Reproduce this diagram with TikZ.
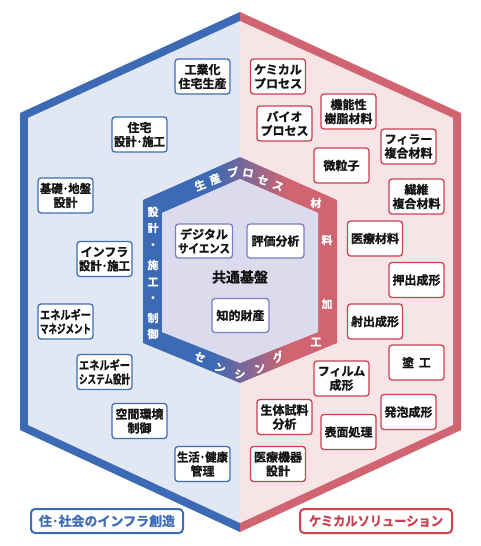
\documentclass[tikz,border=0pt]{standalone}
\usepackage{fontspec}
\usepackage{graphicx}
\newfontfamily\jp{Noto Sans CJK JP}[BoldFont={Noto Sans CJK JP Bold}, BoldFeatures={FakeBold=1.2}]
\definecolor{blueC}{RGB}{60,106,180}
\definecolor{redC}{RGB}{208,100,112}
\definecolor{lbC}{RGB}{226,232,243}
\definecolor{lpC}{RGB}{247,228,231}
\definecolor{lavC}{RGB}{220,219,237}
\definecolor{bboxC}{RGB}{62,108,182}
\definecolor{rboxC}{RGB}{200,66,80}
\definecolor{iboxC}{RGB}{124,124,194}
\definecolor{txtC}{RGB}{20,20,20}
\pgfdeclarehorizontalshading{bandshade}{100bp}{color(0bp)=(blueC); color(43bp)=(blueC); color(62bp)=(redC); color(100bp)=(redC)}
\newsavebox\fitbx
\newcommand\fitl[2][51pt]{\sbox\fitbx{#2}\ifdim\wd\fitbx>#1\relax\resizebox{#1}{\height}{\usebox\fitbx}\else\usebox\fitbx\fi}
\tikzset{
  lbox/.style={draw=bboxC, line width=1.3pt, fill=white, rounded corners=3pt,
    minimum width=55pt, minimum height=35pt, inner sep=0pt, align=center,
    text=txtC, font=\jp\bfseries\fontsize{12}{14}\selectfont},
  rbox/.style={lbox, draw=rboxC},
  ibox/.style={lbox, draw=iboxC, minimum width=57pt, minimum height=34pt,
    font=\jp\bfseries\fontsize{12}{14}\selectfont},
  bandtxt/.style={text=white, inner sep=0pt, font=\jp\bfseries\fontsize{11}{11}\selectfont},
  tagbox/.style={line width=2pt, fill=white, rounded corners=4pt, minimum width=152pt,
    minimum height=24pt, inner sep=0pt, font=\jp\bfseries\fontsize{13}{13}\selectfont}
}
\begin{document}
\begin{tikzpicture}[x=1pt,y=-1pt]
\useasboundingbox (0,0) rectangle (480,546);
\fill[white] (0,0) rectangle (480,546);
% outer hexagon halves
\fill[blueC] (240,12) -- (20,113) -- (20,430) -- (240,532) -- cycle;
\fill[lbC] (240,21) -- (28,118) -- (28,425) -- (240,523) -- cycle;
\fill[redC] (240,12) -- (461,113) -- (461,430) -- (240,532) -- cycle;
\fill[lpC] (240,21) -- (453,118) -- (453,425) -- (240,523) -- cycle;
% inner hexagon band
\shade[shading=bandshade, even odd rule]
  (240,157) -- (337,200) -- (337,343) -- (240,383) -- (143,343) -- (143,200) -- cycle
  (240,179) -- (318,213) -- (318,332) -- (240,363) -- (162,332) -- (162,213) -- cycle;
\fill[lavC] (240,179) -- (318,213) -- (318,332) -- (240,363) -- (162,332) -- (162,213) -- cycle;
% band texts
\node[bandtxt, rotate=21.8] (t1) at (200,185) {生};
\node[bandtxt, rotate=21.8] (t2) at (215,179) {産};
\node[bandtxt, rotate=10] (t3) at (233,172) {プ};
\node[bandtxt, rotate=-10] (t4) at (248,173) {ロ};
\node[bandtxt, rotate=-21.8] (t5) at (263,180) {セ};
\node[bandtxt, rotate=-21.8] (t6) at (278,186) {ス};
\node[bandtxt] (r1) at (316,203) {材};
\node[bandtxt] (r2) at (327,240) {料};
\node[bandtxt] (r3) at (327,304) {加};
\node[bandtxt] (r4) at (316,342) {工};
\node[bandtxt] (l1) at (153,212) {設};
\node[bandtxt] (l2) at (153,228) {計};
\node[bandtxt] (l3) at (153,246) {・};
\node[bandtxt] (l4) at (153,265) {施};
\node[bandtxt] (l5) at (153,282) {工};
\node[bandtxt] (l6) at (153,299) {・};
\node[bandtxt] (l7) at (153,318) {制};
\node[bandtxt] (l8) at (153,334) {御};
\node[bandtxt, rotate=-21.8] (s1) at (200,357) {セ};
\node[bandtxt, rotate=-21.8] (s2) at (220,368) {ン};
\node[bandtxt] (s3) at (240,374) {シ};
\node[bandtxt, rotate=21.8] (s4) at (260,368) {ン};
\node[bandtxt, rotate=21.8] (s5) at (278,357) {グ};
% inner content
\node[ibox] (ds) at (204,241) {\fitl[52pt]{デジタル}\\\fitl[52pt]{サイエンス}};
\node[ibox] (hk) at (275.5,241) {\fitl[52pt]{評価分析}};
\node[ibox] (ch) at (240.5,315.5) {\fitl[52pt]{知的財産}};
\node[text=txtC, inner sep=0pt, font=\jp\bfseries\fontsize{14}{14}\selectfont] (kb) at (240,277) {共通基盤};
% left boxes
\node[lbox] (a1) at (202.5,76.5) {\fitl{工業化}\\\fitl{住宅生産}};
\node[lbox] (a2) at (139.5,134.5) {\fitl{住宅}\\\fitl{設計･施工}};
\node[lbox] (a3) at (65.5,195.5) {\fitl{基礎･地盤}\\\fitl{設計}};
\node[lbox] (a4) at (104.5,259) {\fitl{インフラ}\\\fitl{設計･施工}};
\node[lbox] (a5) at (65.5,321.5) {\fitl{エネルギー}\\\fitl{マネジメント}};
\node[lbox] (a6) at (104.5,372) {\fitl{エネルギー}\\\fitl{システム設計}};
\node[lbox] (a7) at (139.5,421) {\fitl{空間環境}\\\fitl{制御}};
\node[lbox] (a8) at (202.5,464) {\fitl{生活･健康}\\\fitl{管理}};
% right boxes
\node[rbox] (b1) at (278,76.5) {\fitl{ケミカル}\\\fitl{プロセス}};
\node[rbox] (b2) at (284.5,123.5) {\fitl{バイオ}\\\fitl{プロセス}};
\node[rbox] (b3) at (348.5,111.5) {\fitl{機能性}\\\fitl{樹脂材料}};
\node[rbox] (b4) at (408.5,146.5) {\fitl{フィラー}\\\fitl{複合材料}};
\node[rbox] (b5) at (341.5,165.5) {\fitl{微粒子}};
\node[rbox] (b6) at (416.5,196.5) {\fitl{繊維}\\\fitl{複合材料}};
\node[rbox] (b7) at (375,238.5) {\fitl{医療材料}};
\node[rbox] (b8) at (416.5,280) {\fitl{押出成形}};
\node[rbox] (b9) at (375,321.5) {\fitl{射出成形}};
\node[rbox] (b10) at (416.5,362.5) {\fitl{塗\hspace{0.4em}工}};
\node[rbox] (b11) at (341.5,378.5) {\fitl{フィルム}\\\fitl{成形}};
\node[rbox] (b12) at (284.5,417) {\fitl{生体試料}\\\fitl{分析}};
\node[rbox] (b13) at (348.5,432) {\fitl{表面処理}};
\node[rbox] (b14) at (408.5,412) {\fitl{発泡成形}};
\node[rbox] (b15) at (278,464) {\fitl{医療機器}\\\fitl{設計}};
% tags
\node[tagbox, draw=bboxC, text=bboxC] (tagL) at (107,521) {\fitl[138pt]{住･社会のインフラ創造}};
\node[tagbox, draw=rboxC, text=rboxC] (tagR) at (376,521) {\fitl[134pt]{ケミカルソリューション}};
\end{tikzpicture}
\end{document}
